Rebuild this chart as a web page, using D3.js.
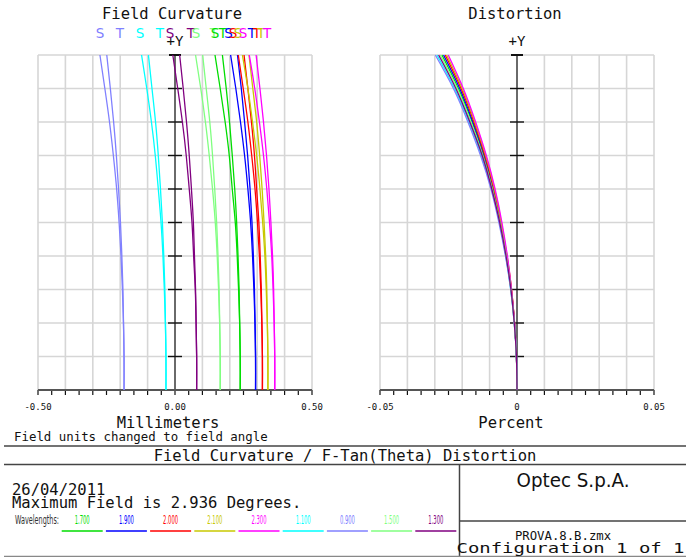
<!DOCTYPE html>
<html>
<head>
<meta charset="utf-8">
<script src="https://cdn.jsdelivr.net/npm/d3@7"></script>
<style>
  html, body { margin: 0; padding: 0; background: #fff; }
  svg { display: block; }
  .mono { font-family: "DejaVu Sans Mono", "Liberation Mono", monospace; fill: #111; }
  .narrow { font-family: "Liberation Sans Narrow", "DejaVu Sans Condensed", "Liberation Sans", sans-serif; }
</style>
</head>
<body>
<svg id="chart" width="686" height="557"></svg>
<script>
(function () {
  "use strict";

  // wavelengths in the order the legend lists them (also the drawing order)
  const wavelengths = ["1.700", "1.900", "2.000", "2.100", "2.300", "1.100", "0.900", "1.500", "1.300"];
  const waveColors = ["#00dd00", "#0000ff", "#ff0000", "#c8c800", "#ff00ff", "#00ffff", "#8080ff", "#80ff80", "#800080"];

  // relative field (0 = axis, 1 = 2.936 deg)
  const fieldFrac = [0, 0.1, 0.2, 0.3, 0.4, 0.5, 0.6, 0.7, 0.8, 0.9, 1.0];

  // field curvature, mm
  const sagittal = [
    [0.238, 0.238, 0.236, 0.232, 0.227, 0.220, 0.209, 0.198, 0.183, 0.165, 0.146],
    [0.294, 0.294, 0.292, 0.288, 0.283, 0.276, 0.266, 0.254, 0.239, 0.222, 0.203],
    [0.319, 0.319, 0.317, 0.313, 0.308, 0.301, 0.292, 0.280, 0.266, 0.249, 0.231],
    [0.339, 0.339, 0.337, 0.333, 0.328, 0.320, 0.310, 0.298, 0.283, 0.266, 0.246],
    [0.364, 0.364, 0.362, 0.358, 0.353, 0.345, 0.335, 0.323, 0.308, 0.291, 0.271],
    [-0.033, -0.033, -0.035, -0.039, -0.044, -0.051, -0.061, -0.072, -0.086, -0.103, -0.122],
    [-0.186, -0.186, -0.188, -0.192, -0.197, -0.204, -0.213, -0.225, -0.239, -0.256, -0.274],
    [0.165, 0.165, 0.163, 0.159, 0.154, 0.147, 0.137, 0.125, 0.111, 0.094, 0.075],
    [0.079, 0.079, 0.077, 0.074, 0.068, 0.062, 0.052, 0.041, 0.027, 0.010, -0.008]
  ];
  const tangential = [
    [0.238, 0.238, 0.236, 0.234, 0.230, 0.225, 0.218, 0.209, 0.199, 0.187, 0.173],
    [0.294, 0.294, 0.292, 0.290, 0.286, 0.281, 0.274, 0.265, 0.254, 0.242, 0.228],
    [0.319, 0.319, 0.317, 0.315, 0.311, 0.306, 0.298, 0.290, 0.279, 0.266, 0.252],
    [0.339, 0.339, 0.337, 0.335, 0.331, 0.325, 0.318, 0.309, 0.298, 0.284, 0.270],
    [0.364, 0.364, 0.362, 0.360, 0.356, 0.350, 0.343, 0.334, 0.323, 0.310, 0.296],
    [-0.033, -0.033, -0.035, -0.037, -0.041, -0.046, -0.053, -0.061, -0.071, -0.084, -0.097],
    [-0.186, -0.186, -0.188, -0.190, -0.194, -0.199, -0.206, -0.214, -0.224, -0.236, -0.249],
    [0.165, 0.165, 0.163, 0.161, 0.157, 0.152, 0.145, 0.137, 0.127, 0.114, 0.101],
    [0.079, 0.079, 0.077, 0.075, 0.071, 0.067, 0.060, 0.052, 0.042, 0.030, 0.017]
  ];

  // f-tan(theta) distortion, percent
  const distortion = [
    [0, -0.0002, -0.0009, -0.0021, -0.0038, -0.0060, -0.0088, -0.0122, -0.0164, -0.0214, -0.0274],
    [0, -0.0002, -0.0009, -0.0021, -0.0038, -0.0059, -0.0086, -0.0119, -0.0161, -0.0209, -0.0268],
    [0, -0.0002, -0.0009, -0.0020, -0.0037, -0.0058, -0.0084, -0.0117, -0.0157, -0.0204, -0.0262],
    [0, -0.0002, -0.0009, -0.0020, -0.0036, -0.0057, -0.0082, -0.0114, -0.0154, -0.0200, -0.0257],
    [0, -0.0002, -0.0009, -0.0020, -0.0035, -0.0055, -0.0080, -0.0112, -0.0151, -0.0196, -0.0251],
    [0, -0.0002, -0.0010, -0.0023, -0.0041, -0.0064, -0.0093, -0.0130, -0.0175, -0.0228, -0.0292],
    [0, -0.0002, -0.0010, -0.0023, -0.0042, -0.0066, -0.0095, -0.0133, -0.0179, -0.0232, -0.0298],
    [0, -0.0002, -0.0010, -0.0022, -0.0039, -0.0062, -0.0090, -0.0125, -0.0168, -0.0218, -0.0280],
    [0, -0.0002, -0.0010, -0.0022, -0.0040, -0.0063, -0.0092, -0.0127, -0.0172, -0.0223, -0.0286]
  ];

  // S / T markers above the field curvature plot (text, wavelength index, mm)
  const stText = ["S", "T", "S", "T", "S", "T", "S", "T", "S", "T", "S", "S", "S", "S", "T", "T", "T", "T"];
  const stWave = [6, 6, 5, 5, 8, 8, 7, 7, 0, 0, 1, 2, 3, 4, 1, 2, 3, 4];
  const stPos = [-0.274, -0.201, -0.128, -0.055, -0.018, 0.058, 0.077, 0.142, 0.146, 0.175,
                 0.195, 0.212, 0.230, 0.248, 0.281, 0.299, 0.314, 0.336];

  const fcTicks = [-0.5, 0, 0.5];
  const fcTickLabels = ["-0.50", "0.00", "0.50"];
  const dsTicks = [-0.05, 0, 0.05];
  const dsTickLabels = ["-0.05", "0", "0.05"];

  const svg = d3.select("#chart");
  const top = 55, bottom = 390;

  const yField = d3.scaleLinear().domain([0, 1]).range([bottom, top]);

  function drawPanel(opts) {
    const x = d3.scaleLinear().domain(opts.domain).range(opts.range);
    const g = svg.append("g");
    const zero = x(0);

    // grid: 10 x 10
    const gx = d3.range(11).map((i) => opts.domain[0] + (opts.domain[1] - opts.domain[0]) * i / 10);
    const gy = d3.range(11).map((i) => i / 10);
    g.append("g").selectAll("line").data(gx).join("line")
      .attr("x1", (d) => x(d)).attr("x2", (d) => x(d))
      .attr("y1", top).attr("y2", bottom)
      .attr("stroke", "#d6d6d6").attr("stroke-width", 1.6);
    g.append("g").selectAll("line").data(gy).join("line")
      .attr("x1", opts.range[0]).attr("x2", opts.range[1])
      .attr("y1", (d) => yField(d)).attr("y2", (d) => yField(d))
      .attr("stroke", "#d6d6d6").attr("stroke-width", 1.6);

    // central field axis
    g.append("line")
      .attr("x1", zero).attr("x2", zero).attr("y1", top).attr("y2", bottom)
      .attr("stroke", "#6a6a6a").attr("stroke-width", 2);
    g.append("g").selectAll("line").data(gy.slice(1)).join("line")
      .attr("x1", (d) => zero - (d === 1 ? 6 : 7)).attr("x2", (d) => zero + (d === 1 ? 6 : 7))
      .attr("y1", (d) => yField(d)).attr("y2", (d) => yField(d))
      .attr("stroke", "#111").attr("stroke-width", (d) => (d === 1 ? 2 : 1.4));

    // bottom axis
    const bt = d3.range(21).map((i) => opts.domain[0] + (opts.domain[1] - opts.domain[0]) * i / 20);
    g.append("g").selectAll("line").data(bt).join("line")
      .attr("x1", (d) => x(d)).attr("x2", (d) => x(d))
      .attr("y1", bottom).attr("y2", bottom + 5)
      .attr("stroke", "#111").attr("stroke-width", 1.2);
    g.append("line")
      .attr("x1", opts.range[0]).attr("x2", opts.range[1]).attr("y1", bottom).attr("y2", bottom)
      .attr("stroke", "#555").attr("stroke-width", 2);

    g.append("g").selectAll("text").data(opts.ticks).join("text")
      .attr("class", "mono")
      .attr("x", (d) => x(d)).attr("y", 410)
      .attr("text-anchor", "middle")
      .style("font-size", "9px")
      .text((d, i) => opts.tickLabels[i]);

    g.append("text").attr("class", "mono")
      .attr("x", zero).attr("y", 46).attr("text-anchor", "middle")
      .style("font-size", "14px").text("+Y");
    g.append("text").attr("class", "mono")
      .attr("x", opts.titleX).attr("y", 19).attr("text-anchor", "middle")
      .style("font-size", "15.5px").text(opts.title);
    g.append("text").attr("class", "mono")
      .attr("x", opts.unitX).attr("y", 428).attr("text-anchor", "middle")
      .style("font-size", "15.5px").text(opts.unit);

    return { g, x };
  }

  const fc = drawPanel({
    domain: [-0.5, 0.5], range: [38, 312], ticks: fcTicks, tickLabels: fcTickLabels,
    title: "Field Curvature", titleX: 172, unit: "Millimeters", unitX: 168
  });
  const ds = drawPanel({
    domain: [-0.05, 0.05], range: [380, 654], ticks: dsTicks, tickLabels: dsTickLabels,
    title: "Distortion", titleX: 515, unit: "Percent", unitX: 511
  });

  function lineFor(x) {
    return d3.line()
      .x((d) => x(d[0]))
      .y((d) => yField(d[1]))
      .curve(d3.curveNatural);
  }

  const fcLine = lineFor(fc.x);
  const fcCurves = fc.g.append("g").attr("fill", "none").attr("stroke-width", 1.3);
  wavelengths.forEach((w, i) => {
    [sagittal[i], tangential[i]].forEach((vals) => {
      fcCurves.append("path")
        .attr("d", fcLine(vals.map((v, k) => [v, fieldFrac[k]])))
        .attr("stroke", waveColors[i]);
    });
  });

  const dsLine = lineFor(ds.x);
  const dsCurves = ds.g.append("g").attr("fill", "none").attr("stroke-width", 1.3);
  wavelengths.forEach((w, i) => {
    dsCurves.append("path")
      .attr("d", dsLine(distortion[i].map((v, k) => [v, fieldFrac[k]])))
      .attr("stroke", waveColors[i]);
  });

  fc.g.append("g").selectAll("text").data(stText).join("text")
    .attr("x", (d, i) => fc.x(stPos[i])).attr("y", 38)
    .attr("text-anchor", "middle")
    .style("font-family", "'DejaVu Sans', sans-serif")
    .style("font-size", "13.5px")
    .attr("fill", (d, i) => waveColors[stWave[i]])
    .text((d) => d);

  svg.append("text").attr("class", "mono")
    .attr("x", 14).attr("y", 441).style("font-size", "12.4px")
    .text("Field units changed to field angle");

  // title block
  const frame = svg.append("g").attr("stroke", "#444").attr("stroke-width", 1.5);
  frame.append("line").attr("x1", 4).attr("x2", 686).attr("y1", 446).attr("y2", 446);
  frame.append("line").attr("x1", 4).attr("x2", 686).attr("y1", 464.5).attr("y2", 464.5);
  frame.append("line").attr("x1", 459.5).attr("x2", 459.5).attr("y1", 464.5).attr("y2", 557);
  frame.append("line").attr("x1", 459.5).attr("x2", 686).attr("y1", 521).attr("y2", 521);
  frame.append("line").attr("x1", 4).attr("x2", 686).attr("y1", 556.5).attr("y2", 556.5)
    .attr("stroke", "#888");

  svg.append("text").attr("class", "mono")
    .attr("x", 345).attr("y", 461).attr("text-anchor", "middle")
    .style("font-size", "15.5px").text("Field Curvature / F-Tan(Theta) Distortion");
  svg.append("text").attr("class", "mono")
    .attr("x", 12).attr("y", 495).style("font-size", "15.5px").text("26/04/2011");
  svg.append("text").attr("class", "mono")
    .attr("x", 12).attr("y", 508).style("font-size", "15.5px").text("Maximum Field is 2.936 Degrees.");

  svg.append("text").attr("class", "narrow")
    .attr("x", 15).attr("y", 524).style("font-size", "12.5px").attr("fill", "#333")
    .attr("textLength", 44).attr("lengthAdjust", "spacingAndGlyphs")
    .text("Wavelengths:");

  const legend = svg.append("g").selectAll("g").data(wavelengths).join("g")
    .attr("transform", (d, i) => `translate(${61.7 + i * 44.2},0)`);
  legend.append("text").attr("class", "narrow")
    .attr("x", 20.5).attr("y", 524).attr("text-anchor", "middle")
    .style("font-size", "12px")
    .attr("textLength", 15).attr("lengthAdjust", "spacingAndGlyphs")
    .attr("fill", (d, i) => waveColors[i])
    .text((d) => d);
  legend.append("line")
    .attr("x1", 0).attr("x2", 41).attr("y1", 531).attr("y2", 531)
    .attr("stroke", (d, i) => waveColors[i]).attr("stroke-width", 1.3);

  svg.append("text").attr("class", "narrow")
    .attr("x", 573).attr("y", 487).attr("text-anchor", "middle")
    .style("font-size", "20px").attr("fill", "#111")
    .attr("textLength", 113).attr("lengthAdjust", "spacingAndGlyphs")
    .text("Optec S.p.A.");
  svg.append("text").attr("class", "mono")
    .attr("x", 563).attr("y", 540).attr("text-anchor", "middle")
    .style("font-size", "12.3px").text("PROVA.8.B.zmx");
  svg.append("text").attr("class", "mono")
    .attr("x", 570.5).attr("y", 553).attr("text-anchor", "middle")
    .style("font-size", "14.5px")
    .attr("textLength", 228).attr("lengthAdjust", "spacingAndGlyphs")
    .text("Configuration 1 of 1");
})();
</script>
</body>
</html>
